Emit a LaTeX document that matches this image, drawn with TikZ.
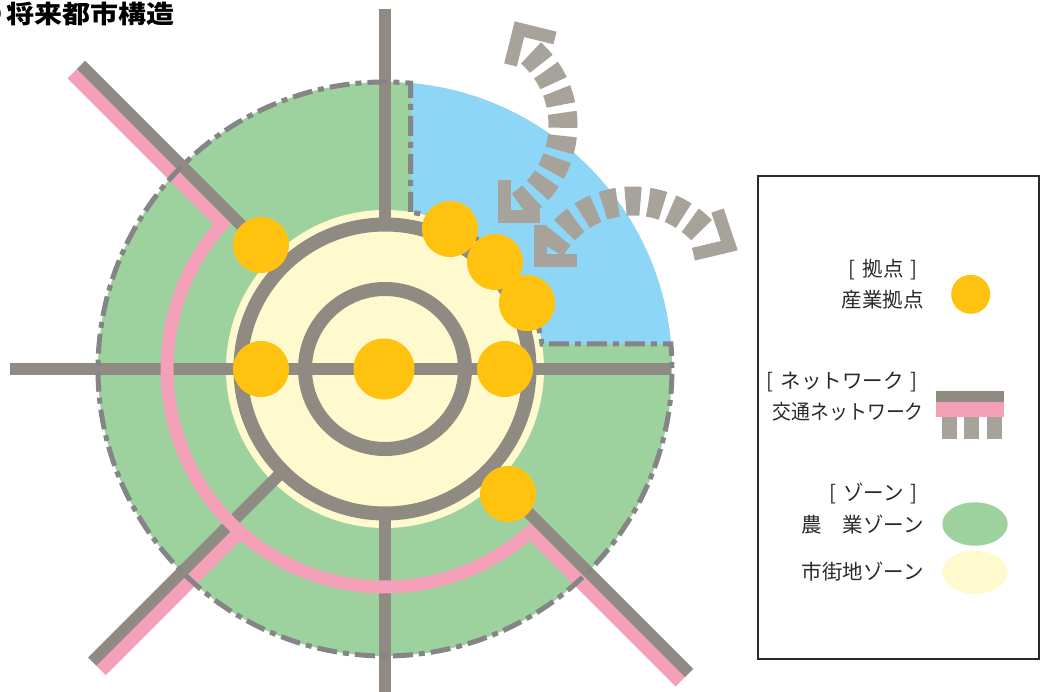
\documentclass[tikz,border=0pt]{standalone}
\usepackage{fontspec}
\usepackage{graphicx}
\newfontfamily\jp{Noto Sans CJK JP}
\usetikzlibrary{calc,shapes.geometric}
\definecolor{road}{HTML}{8F8B82}
\definecolor{pinkr}{HTML}{F4A0B9}
\definecolor{greenz}{HTML}{9DD19D}
\definecolor{yellowz}{HTML}{FFFACD}
\definecolor{bluez}{HTML}{8DD6F7}
\definecolor{hub}{HTML}{FFC20E}
\definecolor{arrowg}{HTML}{A7A29A}
\definecolor{bound}{HTML}{858587}
\definecolor{ink}{HTML}{2A2A2A}
\newcommand{\brk}[1]{[\hspace{7pt}#1\hspace{7pt}]}
\begin{document}
\begin{tikzpicture}[x=1pt,y=1pt,
  roadline/.style={draw=road,line width=12pt},
  ringroad/.style={draw=road,line width=14pt},
  pinkline/.style={draw=pinkr,line width=13pt,line join=miter},
  hubnode/.style={circle,fill=hub,inner sep=0pt,minimum size=56pt},
  zoneedge/.style={draw=bound,line width=5pt,dash pattern=on 20pt off 6pt on 6pt off 6pt},
  flow/.style={draw=arrowg,line width=29pt,dash pattern=on 15pt off 8pt},
  flowhead/.style={draw=arrowg,line width=13pt,line join=miter},
  legtext/.style={font=\jp\fontsize{20.5}{23}\selectfont,text=ink,anchor=east,inner sep=0pt},
  legbar/.style={fill=arrowg,minimum width=15pt,minimum height=22.6pt,inner sep=0pt}
]
\useasboundingbox (0,0) rectangle (1040,-692);
\coordinate (C) at (385,-369);
% zones
\fill[greenz] (C) circle (287);
\begin{scope}
  \clip (C) circle (287);
  \fill[bluez] (410.5,-344) rectangle (700,-50);
\end{scope}
\fill[yellowz] (C) circle (159);
% roads
\draw[roadline] (10,-369) -- (671,-369);
\draw[roadline] (385,-9) -- ($(C)+(90:144)$);
\draw[roadline] ($(C)+(270:144)$) -- (385,-692);
\draw[roadline] ($(C)+(135:144)$) -- ($(C)+(135:430)$);
\draw[roadline] ($(C)+(225:144)$) -- ($(C)+(225:414)$);
\draw[roadline] ($(C)+(315:144)$) -- ($(C)+(315:430)$);
\draw[ringroad] (C) circle (144.5);
\draw[ringroad] (C) circle (80);
% pink network
\draw[pinkline] ($(C)+(225:12.5)+(135:430)$) -- ($(C)+(138.3:218)$)
  arc[start angle=138.3,end angle=311.7,radius=218]
  -- ($(C)+(225:12.5)+(315:430)$);
\draw[pinkline] ($(C)+(315:12.5)+(225:215)$) -- ($(C)+(315:12.5)+(225:414)$);
% zone boundary
\draw[zoneedge] (410.5,-212) -- (410.5,-83.13)
  arc[start angle=84.9,end angle=365,radius=287] -- (542,-344)
  arc[start angle=9.05,end angle=80.77,radius=159] -- cycle;
% hubs
\node[hubnode] (h1) at (261,-245) {};
\node[hubnode] (h2) at (450,-229) {};
\node[hubnode] (h3) at (495,-262) {};
\node[hubnode] (h4) at (527,-303) {};
\node[hubnode] (h5) at (261,-369) {};
\node[hubnode,minimum size=61pt] (h0) at (384,-369) {};
\node[hubnode] (h6) at (505,-369) {};
\node[hubnode] (h7) at (508,-494) {};
% flow arrows
\draw[flow] (466,-125) ++(-56:97) arc[start angle=-56,end angle=48,radius=97];
\draw[flow] (633,-296) ++(150:95) arc[start angle=150,end angle=40,radius=95];
\draw[flowhead] (555,-38) -- (519.4,-29.2) -- (510.5,-65);
\draw[flowhead] (504,-180) -- (504,-217) -- (540,-217);
\draw[flowhead] (540,-225) -- (540,-261) -- (577,-261);
\draw[flowhead] (717.5,-210.6) -- (729.3,-245.7) -- (693.4,-254.2);
% title
\node[anchor=east,inner sep=0pt,font=\jp\bfseries\fontsize{25}{28}\selectfont] (bullet) at (3,-14) {●};
\node[anchor=west,inner sep=0pt,font=\jp\bfseries\fontsize{25}{28}\selectfont] (title) at (6,-14) {\scalebox{1.12}[1]{将来都市構造}};
% legend
\node[draw=ink,line width=1.8pt,minimum width=281pt,minimum height=483pt,inner sep=0pt,anchor=north west] (legend) at (757,-175) {};
\node[legtext] (t1) at (918,-270) {\brk{拠点}};
\node[legtext] (t2) at (924,-300) {産業拠点};
\node[legtext] (t3) at (918,-381.5) {\brk{ネットワーク}};
\node[legtext] (t4) at (924,-412) {\scalebox{0.92}[1]{交通ネットワーク}};
\node[legtext] (t5) at (918,-493) {\brk{ゾーン}};
\node[legtext] (t6) at (924,-525) {農　業ゾーン};
\node[legtext] (t7) at (924,-572) {市街地ゾーン};
\node[circle,fill=hub,minimum size=39pt,inner sep=0pt] (lhub) at (970.7,-294.3) {};
\node[fill=road,minimum width=68pt,minimum height=11pt,inner sep=0pt] (lroad) at (970,-396.2) {};
\node[fill=pinkr,minimum width=68pt,minimum height=15pt,inner sep=0pt] (lpink) at (970,-409.2) {};
\node[legbar] (lb1) at (949.2,-428) {};
\node[legbar] (lb2) at (971.7,-428) {};
\node[legbar] (lb3) at (994.3,-428) {};
\node[ellipse,fill=greenz,minimum width=65.4pt,minimum height=43.4pt,inner sep=0pt] (lgreen) at (975,-524) {};
\node[ellipse,fill=yellowz,minimum width=65.4pt,minimum height=43.4pt,inner sep=0pt] (lyellow) at (975,-572.3) {};
\end{tikzpicture}
\end{document}
